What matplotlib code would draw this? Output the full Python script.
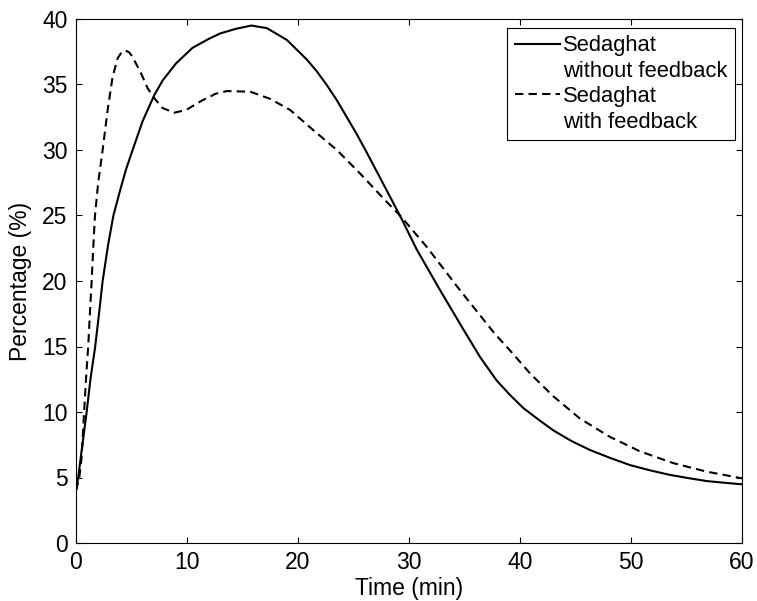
import matplotlib
matplotlib.use("Agg")
import matplotlib.pyplot as plt
from matplotlib.lines import Line2D

plt.rcParams['font.family'] = ['Liberation Sans', 'DejaVu Sans']

# time (min) and percentage (%)
t_nofb = [0, 0.2, 0.5, 0.96, 1.3, 1.73, 2.1, 2.4, 2.9, 3.37, 4.0, 4.5, 5.1,
          6.0, 7.06, 7.8, 9.0, 10.5, 12.0, 13.0, 14.4, 15.8, 17.2, 19.0, 20.8,
          21.7, 22.6, 23.5, 24.4, 25.3, 26.2, 28.0, 29.3, 30.7, 32.8, 34.9,
          36.4, 37.9, 39.1, 40.3, 41.7, 43.0, 44.6, 46.3, 48.1, 49.9, 51.7,
          53.5, 55.2, 56.8, 58.4, 60]
y_nofb = [4.0, 5.0, 7.0, 10, 12.5, 15, 17.7, 20, 22.8, 25, 27.0, 28.5, 30.0,
          32.2, 34.2, 35.3, 36.6, 37.8, 38.5, 38.9, 39.25, 39.5, 39.3, 38.4,
          36.9, 36.0, 34.95, 33.8, 32.5, 31.2, 29.8, 26.9, 24.8, 22.4, 19.3,
          16.3, 14.2, 12.4, 11.3, 10.3, 9.4, 8.6, 7.8, 7.1, 6.5, 5.95, 5.55,
          5.2, 4.95, 4.73, 4.6, 4.48]

t_fb = [0, 0.3, 0.5, 0.73, 0.9, 1.1, 1.25, 1.41, 1.55, 1.71, 2.0, 2.4, 2.85,
        3.3, 3.75, 4.1, 4.45, 4.8, 5.1, 5.86, 6.46, 7.06, 7.8, 8.86, 9.9, 11.4,
        12.6, 13.6, 15.7, 17.5, 19.3, 21.4, 23.5, 25.6, 27.7, 29.3, 31.6, 34.5,
        37.7, 39.1, 40.9, 43.0, 45.4, 48.1, 50.8, 53.8, 56.8, 60]
y_fb = [4.0, 5.0, 6.5, 10, 12.5, 15, 17.5, 20, 22.5, 25, 27.5, 30, 33.05,
        35.6, 37.0, 37.45, 37.6, 37.45, 37.1, 35.85, 34.7, 33.95, 33.2, 32.85,
        33.05, 33.8, 34.3, 34.5, 34.45, 33.9, 33.05, 31.5, 30.0, 28.2, 26.3,
        24.9, 22.6, 19.4, 16.0, 14.7, 12.95, 11.2, 9.5, 8.1, 7.0, 6.1, 5.45,
        4.94]

x_ticks = [0, 10, 20, 30, 40, 50, 60]
y_ticks = [0, 5, 10, 15, 20, 25, 30, 35, 40]

fig = plt.figure(figsize=(7.57, 6.01), dpi=100)
ax = fig.add_axes([76 / 757, 1 - 543 / 601, 666 / 757, 524 / 601])

dash = (0, (4, 2.5))
ax.plot(t_nofb, y_nofb, color='black', lw=1.5, solid_joinstyle='round')
ax.plot(t_fb, y_fb, color='black', lw=1.5, linestyle=dash)

ax.set_xlim(0, 60)
ax.set_ylim(0, 40)
ax.set_xticks(x_ticks)
ax.set_yticks(y_ticks)
ax.tick_params(direction='in', length=4.3, width=0.8, top=True, right=True,
               labelsize=16.5, pad=6, colors='black')
for sp in ax.spines.values():
    sp.set_linewidth(0.8)

ax.set_xlabel('Time (min)', fontsize=16.5)
ax.set_ylabel('Percentage (%)', fontsize=16.5)
ax.xaxis.set_label_coords(0.5, -0.064)
ax.yaxis.set_label_coords(-0.066, 0.5)

blank = Line2D([], [], color='none')
handles = [Line2D([], [], color='black', lw=1.5), blank,
           Line2D([], [], color='black', lw=1.5, linestyle=dash), blank]
labels = ['Sedaghat', 'without feedback', 'Sedaghat', 'with feedback']
leg = ax.legend(handles, labels, loc='upper right',
                bbox_to_anchor=(735 / 757, 1 - 27.7 / 601),
                bbox_transform=fig.transFigure, borderaxespad=0,
                fontsize=15.8, handlelength=2.05, handletextpad=0.15,
                borderpad=0.35, labelspacing=0.2, fancybox=False,
                framealpha=1, edgecolor='black')
leg.get_frame().set_linewidth(0.8)

fig.savefig('out.png', dpi=100)
